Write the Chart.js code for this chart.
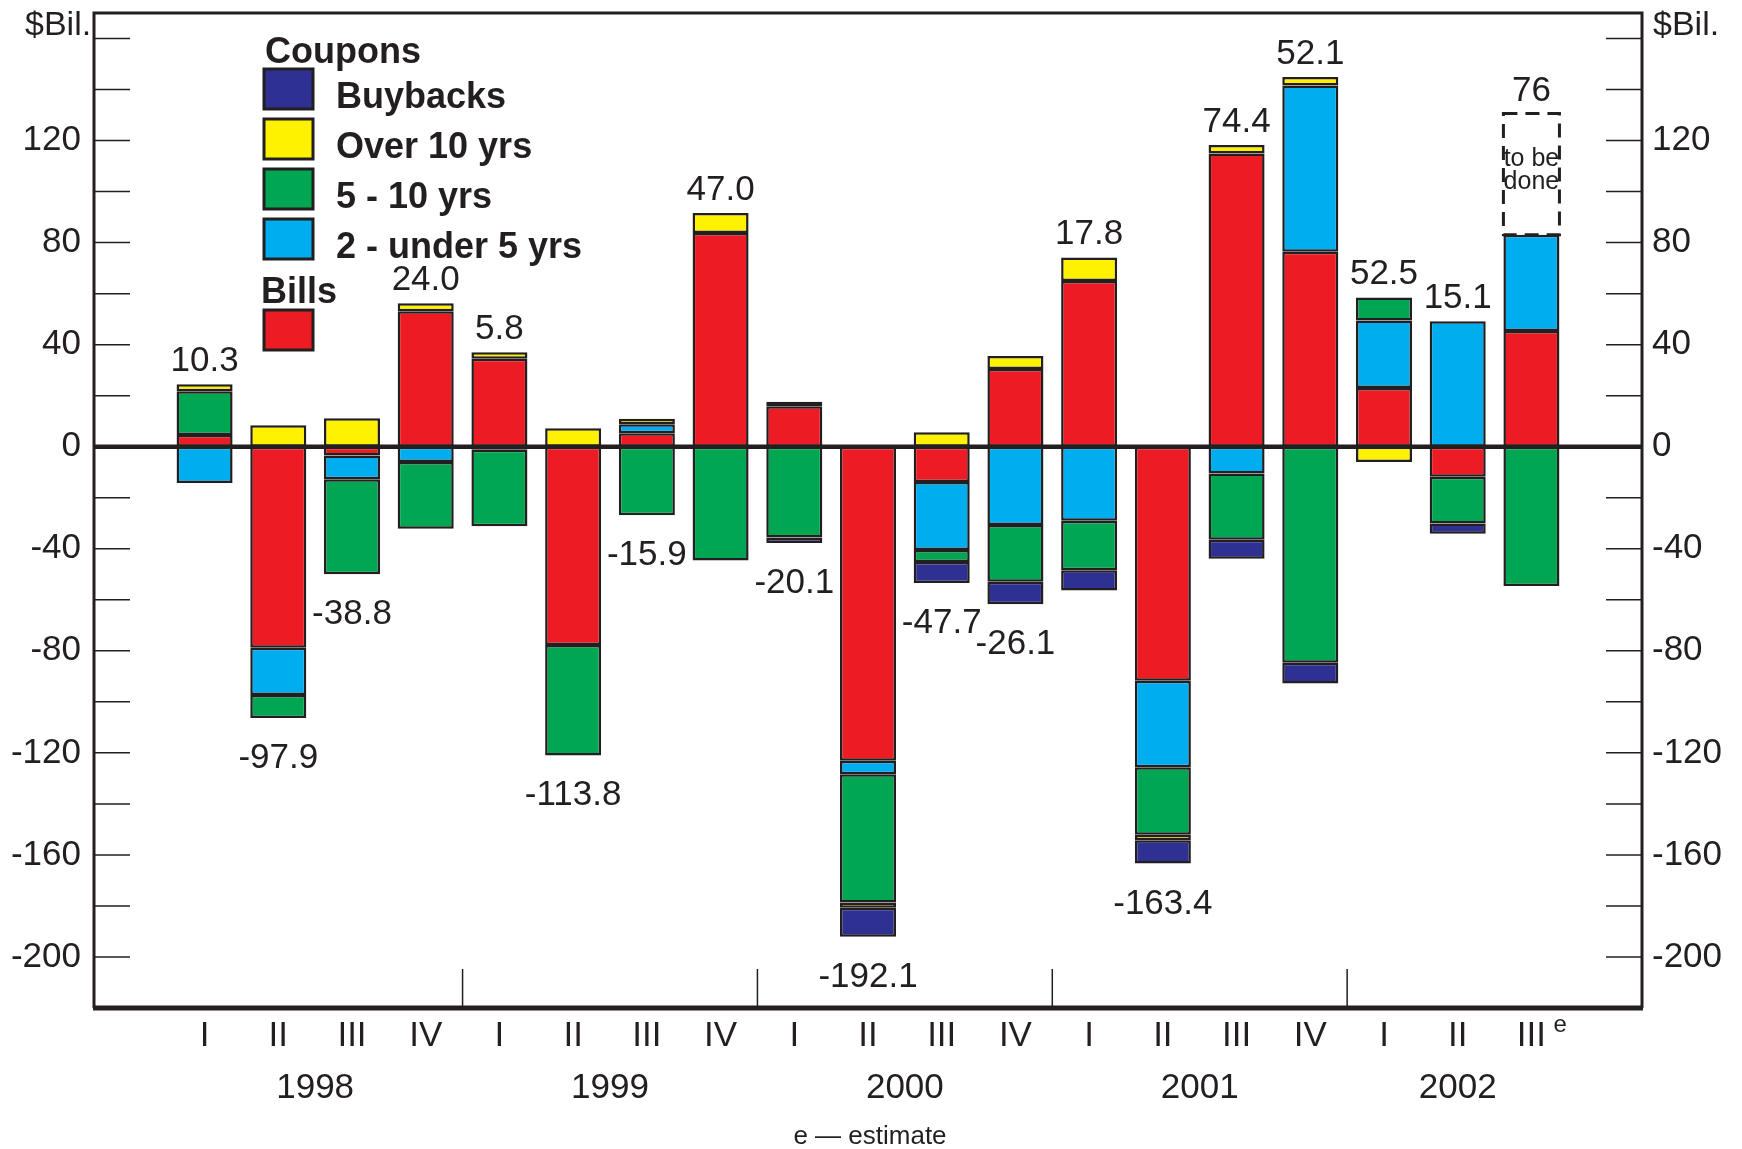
<!DOCTYPE html>
<html>
<head>
<meta charset="utf-8">
<title>Net marketable borrowing by maturity</title>
<script src="https://cdn.jsdelivr.net/npm/chart.js@4.4.1/dist/chart.umd.min.js"></script>
<style>
  html, body { margin: 0; padding: 0; background: #ffffff; }
  canvas { display: block; }
</style>
</head>
<body>
<canvas id="chart" width="1742" height="1149"></canvas>
<script>
// quarters along the bottom and the year each belongs to
const QUARTERS = ["I", "II", "III", "IV", "I", "II", "III", "IV", "I", "II", "III", "IV", "I", "II", "III", "IV", "I", "II", "III"];
const QUARTER_YEARS = ["1998", "1998", "1998", "1998", "1999", "1999", "1999", "1999", "2000", "2000", "2000", "2000",
                       "2001", "2001", "2001", "2001", "2002", "2002", "2002"];

// $ billions per quarter, by segment
const BILLS       = [4.6, -78.8, -3.4, 53.1, 34.5, -77.7, 5.3, 83.8, 15.9, -123.1, -13.8, 30.5, 65.0, -91.7, 114.9, 76.4, 23.0, -11.8, 45.4];
const TWO_TO_FIVE = [-14.2, -18.5, -9.4, -6.0, -1.2, null, 3.5, null, null, -5.3, -26.7, -30.7, -29.0, -33.9, -10.5, 65.2, 26.5, 49.2, 37.7];
const FIVE_TO_TEN = [17.1, -9.0, -37.2, -26.2, -30.0, -43.3, -26.9, -44.6, -35.6, -50.2, -4.7, -22.2, -19.4, -26.5, -26.0, -84.7, 9.0, -18.3, -54.6];
const OVER_TEN    = [2.8, 8.4, 11.2, 3.1, 2.5, 7.2, 2.2, 7.8, 1.7, -2.1, 5.7, 5.1, 9.2, -2.1, 3.4, 3.3, -6.0, null, null];
const BUYBACKS    = [null, null, null, null, null, null, null, null, -2.1, -11.4, -8.2, -8.8, -8.0, -9.2, -7.4, -8.1, null, -4.0, null];
const TO_BE_DONE  = [null, null, null, null, null, null, null, null, null, null, null, null, null, null, null, null, null, null, 47.5];

// net totals printed over / under each bar
const TOTALS = ["10.3", "-97.9", "-38.8", "24.0", "5.8", "-113.8", "-15.9", "47.0", "-20.1", "-192.1", "-47.7", "-26.1",
                "17.8", "-163.4", "74.4", "52.1", "52.5", "15.1", "76"];

const Y_LABELS = [-200, -160, -120, -80, -40, 0, 40, 80, 120];
const Y_MARKS = [-200, -180, -160, -140, -120, -100, -80, -60, -40, -20, 0, 20, 40, 60, 80, 100, 120, 140, 160];

const FONT = "'Liberation Sans', Arial, Helvetica, sans-serif";
const INK = "#231f20";
const RED = "#ed1c24", BLUE = "#00aeef", GREEN = "#00a651", YELLOW = "#fff200", NAVY = "#2e3192";

const points = arr => arr.map((v, i) => ({ x: i, y: v }));
const segment = (label, data, color) => ({
  label, data: points(data), backgroundColor: color,
  borderColor: INK, borderWidth: 2.5, borderSkipped: false
});

const SEGMENTS = [BILLS, TWO_TO_FIVE, FIVE_TO_TEN, OVER_TEN, BUYBACKS, TO_BE_DONE];

function stackEnds(i) {
  let pos = 0, neg = 0;
  SEGMENTS.forEach(s => {
    const v = s[i];
    if (v == null) return;
    if (v > 0) pos += v; else neg += v;
  });
  return { pos, neg };
}

function write(ctx, str, x, y, size, align, bold) {
  ctx.font = (bold ? "bold " : "") + size + "px " + FONT;
  ctx.textAlign = align || "center";
  ctx.textBaseline = "alphabetic";
  ctx.fillStyle = INK;
  ctx.fillText(str, x, y);
}

// keep the plot box where the original has it
const noPad = s => { s.paddingTop = 0; s.paddingBottom = 0; s.paddingLeft = 0; s.paddingRight = 0; };

const decor = {
  id: "decor",
  afterDatasetsDraw(chart) {
    const { ctx, chartArea: a, scales } = chart;
    const x = scales.x, y = scales.y;
    ctx.save();
    ctx.strokeStyle = INK;

    // dashed box for the part still to be done
    const meta = chart.getDatasetMeta(5);
    meta.data.forEach((bar, i) => {
      if (TO_BE_DONE[i] == null) return;
      const p = bar.getProps(["x", "y", "base", "width"], true);
      ctx.lineWidth = 3;
      ctx.setLineDash([14, 8]);
      ctx.strokeRect(p.x - p.width / 2, p.y, p.width, p.base - p.y);
      ctx.setLineDash([]);
      write(ctx, "to be", p.x, p.y + 52, 25);
      write(ctx, "done", p.x, p.y + 75, 25);
    });

    // frame
    ctx.lineWidth = 3;
    ctx.beginPath();
    ctx.moveTo(a.left, a.bottom); ctx.lineTo(a.left, a.top); ctx.lineTo(a.right, a.top); ctx.lineTo(a.right, a.bottom);
    ctx.stroke();
    ctx.lineWidth = 5;
    ctx.beginPath(); ctx.moveTo(a.left - 1, a.bottom); ctx.lineTo(a.right + 1, a.bottom); ctx.stroke();

    // zero line
    const y0 = y.getPixelForValue(0);
    ctx.lineWidth = 4.5;
    ctx.beginPath(); ctx.moveTo(a.left, y0); ctx.lineTo(a.right, y0); ctx.stroke();

    // inward tick marks on both sides
    ctx.lineWidth = 1.5;
    Y_MARKS.forEach(v => {
      const py = y.getPixelForValue(v);
      ctx.beginPath();
      ctx.moveTo(a.left, py); ctx.lineTo(a.left + 36, py);
      ctx.moveTo(a.right, py); ctx.lineTo(a.right - 36, py);
      ctx.stroke();
    });

    // year separators and year names
    const years = [];
    QUARTER_YEARS.forEach((yr, i) => {
      if (i > 0 && yr !== QUARTER_YEARS[i - 1]) {
        const px = x.getPixelForValue(i - 0.5);
        ctx.beginPath(); ctx.moveTo(px, a.bottom); ctx.lineTo(px, a.bottom - 39); ctx.stroke();
      }
      let g = years.find(e => e.yr === yr);
      if (!g) { g = { yr, first: i, last: i }; years.push(g); }
      g.last = i;
    });
    years.forEach(g => write(ctx, g.yr, x.getPixelForValue((g.first + g.last) / 2), a.bottom + 90, 35));

    // estimate marker on the last quarter
    write(ctx, "e", x.getPixelForValue(QUARTERS.length - 1) + 22, a.bottom + 24, 24, "left");
    write(ctx, "e \u2014 estimate", 870, 1144, 26);

    // units
    write(ctx, "$Bil.", 25, 35, 34, "left");
    write(ctx, "$Bil.", a.right + 11, 35, 34, "left");

    // totals
    TOTALS.forEach((t, i) => {
      const ends = stackEnds(i);
      const px = x.getPixelForValue(i);
      if (parseFloat(t) >= 0) write(ctx, t, px, y.getPixelForValue(ends.pos) - 13, 35);
      else write(ctx, t, px, y.getPixelForValue(ends.neg) + 50, 35);
    });

    // legend
    const box = (bx, by, color) => {
      ctx.fillStyle = color;
      ctx.fillRect(bx, by, 49, 40);
      ctx.lineWidth = 3;
      ctx.strokeRect(bx, by, 49, 40);
    };
    write(ctx, "Coupons", 265, 63, 36, "left", true);
    const coupons = [chart.data.datasets[4], chart.data.datasets[3], chart.data.datasets[2], chart.data.datasets[1]];
    coupons.forEach((ds, k) => {
      const top = 69 + k * 50;
      box(264, top, ds.backgroundColor);
      write(ctx, ds.label, 336, top + 39, 36, "left", true);
    });
    write(ctx, "Bills", 261, 303, 36, "left", true);
    box(264, 310, chart.data.datasets[0].backgroundColor);

    ctx.restore();
  }
};

new Chart(document.getElementById("chart"), {
  type: "bar",
  data: {
    datasets: [
      segment("Bills", BILLS, RED),
      segment("2 - under 5 yrs", TWO_TO_FIVE, BLUE),
      segment("5 - 10 yrs", FIVE_TO_TEN, GREEN),
      segment("Over 10 yrs", OVER_TEN, YELLOW),
      segment("Buybacks", BUYBACKS, NAVY),
      { label: "to be done", data: points(TO_BE_DONE), backgroundColor: "rgba(0,0,0,0)", borderWidth: 0 }
    ]
  },
  options: {
    responsive: false,
    animation: false,
    events: [],
    layout: { padding: { top: 13, left: 0, right: 0, bottom: 0 } },
    datasets: { bar: { categoryPercentage: 1, barPercentage: 0.76 } },
    plugins: { legend: { display: false }, tooltip: { enabled: false } },
    scales: {
      x: {
        type: "linear", min: -1.5, max: 19.5, offset: false, stacked: true,
        afterFit: s => { s.height = 141; noPad(s); },
        afterBuildTicks: s => { s.ticks = QUARTERS.map((q, i) => ({ value: i })); },
        grid: { display: false, drawTicks: false },
        border: { display: false },
        ticks: {
          autoSkip: false, maxRotation: 0, padding: 7, color: INK,
          font: { family: FONT, size: 35 },
          callback: v => QUARTERS[v]
        }
      },
      y: {
        position: "left", min: -220, max: 170, stacked: true,
        afterFit: s => { s.width = 94; noPad(s); },
        afterBuildTicks: s => { s.ticks = Y_LABELS.map(v => ({ value: v })); },
        grid: { display: false, drawTicks: false },
        border: { display: false },
        ticks: { padding: 13, color: INK, font: { family: FONT, size: 35 }, callback: v => String(v) }
      },
      y2: {
        position: "right", min: -220, max: 170,
        afterFit: s => { s.width = 100; noPad(s); },
        afterBuildTicks: s => { s.ticks = Y_LABELS.map(v => ({ value: v })); },
        grid: { display: false, drawTicks: false },
        border: { display: false },
        ticks: { padding: 10, color: INK, font: { family: FONT, size: 35 }, callback: v => String(v) }
      }
    }
  },
  plugins: [decor]
});
</script>
</body>
</html>
